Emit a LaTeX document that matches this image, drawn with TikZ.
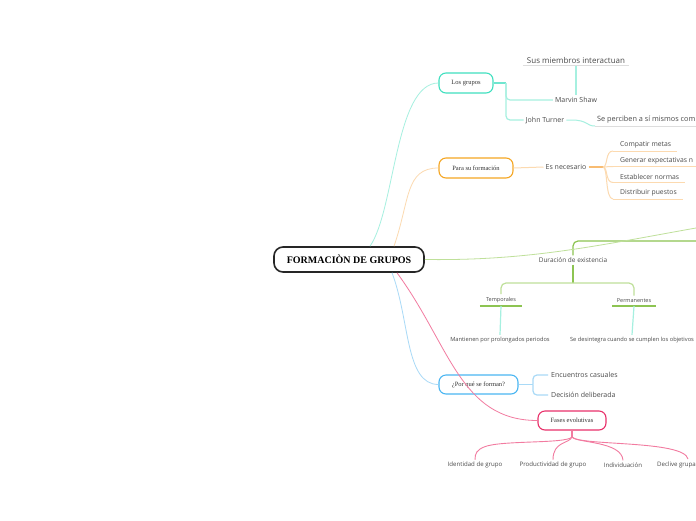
\documentclass[tikz,border=0pt]{standalone}
\usepackage{fontspec}
\setmainfont{Open Sans}
\newfontfamily\serifnode{Liberation Serif}
\definecolor{txt}{HTML}{4A4A4A}
\definecolor{tealB}{HTML}{40E0C0}
\definecolor{tealM}{HTML}{6FE6CF}
\definecolor{tealL}{HTML}{A6F0E0}
\definecolor{orangeB}{HTML}{F5A623}
\definecolor{orangeM}{HTML}{F8BC72}
\definecolor{orangeL}{HTML}{FCDAB0}
\definecolor{greenB}{HTML}{8DC452}
\definecolor{greenL}{HTML}{BFE09A}
\definecolor{blueB}{HTML}{4AB6F2}
\definecolor{blueL}{HTML}{A9DAF7}
\definecolor{pinkB}{HTML}{E8306A}
\definecolor{pinkL}{HTML}{F27BA0}
\definecolor{grayline}{HTML}{DDDDDD}
\begin{document}
\begin{tikzpicture}[x=1pt,y=-1pt,
  mainnode/.style={draw=black!85, line width=1.6pt, rounded corners=9pt, minimum width=150pt, minimum height=25pt, inner sep=0pt, font=\serifnode\bfseries\fontsize{10}{12}\selectfont},
  topic/.style={rounded corners=7pt, line width=1.1pt, minimum height=20pt, inner sep=0pt, text=black!80, font=\serifnode\fontsize{6.5}{7.5}\selectfont},
  lbl/.style={text=txt, inner sep=2pt, font=\fontsize{7}{8}\selectfont},
  itemlbl/.style={lbl, anchor=south west, inner xsep=0pt, inner ysep=2.5pt, font=\fontsize{6.8}{8}\selectfont, execute at begin node=\hspace*{7pt}, execute at end node=\hspace*{6pt}},
  small/.style={lbl, font=\fontsize{6.1}{7}\selectfont},
  conn/.style={line width=0.8pt}
]
\fill[white] (0,0) rectangle (696,520);
\useasboundingbox (0,0) rectangle (696,520);

% main nodes
\node[mainnode] (central) at (349,259.5) {FORMACIÒN DE GRUPOS};
\node[topic, draw=tealB, minimum width=54pt] (grupos) at (466,83) {Los grupos};
\node[topic, draw=orangeB, minimum width=74pt] (formacion) at (476,168) {Para su formación};
\node[topic, draw=blueB, minimum width=79pt, minimum height=19pt] (porque) at (478.5,384.5) {¿Por qué se forman?};
\node[topic, draw=pinkB, minimum width=68pt, minimum height=19pt] (fases) at (572,420.5) {Fases evolutivas};

% Los grupos branch
\node[lbl, font=\fontsize{8}{9}\selectfont, inner xsep=4pt, inner ysep=2.5pt] (sus) at (576,60) {Sus miembros interactuan};
\draw[grayline, line width=0.8pt] (sus.south west) -- (sus.south east);
\node[lbl] (marvin) at (576,100) {Marvin Shaw};
\node[lbl] (john) at (545,120) {John Turner};
\node[lbl, anchor=south west, inner ysep=2.5pt, font=\fontsize{7.3}{8}\selectfont] (seperc) at (595,126) {Se perciben a sí mismos com};
\coordinate (sepEnd) at (696,126);
\draw[grayline, line width=0.8pt] (seperc.south west) -- (sepEnd);
\coordinate (gb) at (506,83);
\draw[tealM, line width=1.6pt] (grupos.east) -- (gb);
\draw[tealL, line width=1.2pt, rounded corners=4pt] (gb) |- (marvin.west);
\draw[tealL, line width=1.2pt, rounded corners=4pt] (gb) |- (john.west);
\draw[tealL, line width=1.2pt] (sus.south) -- (marvin.north);
\draw[tealL, line width=1pt] (john.east) -- ++(5,0) .. controls (588,120) and (586,126) .. (seperc.south west);

% Para su formacion branch
\node[lbl] (nec) at (566,167) {Es necesario};
\node[itemlbl] (c1) at (613,151) {Compatir metas};
\node[itemlbl] (c2) at (613,166.5) {Generar expectativas n};
\node[itemlbl] (c3) at (613,182.5) {Establecer normas};
\node[itemlbl] (c4) at (613,199) {Distribuir puestos};
\foreach \c in {c1,c2,c3,c4}{\draw[orangeL, line width=1pt] (\c.south west) -- (\c.south east);}
\draw[orangeL, line width=1pt] (formacion.east) -- (nec.west);
\coordinate (ob) at (603,167);
\draw[orangeM, line width=1.6pt] (nec.east) -- (ob);
\draw[orangeL, line width=1pt] (ob) .. controls (608,167) and (605,151) .. (c1.south west);
\draw[orangeL, line width=1pt] (ob) .. controls (608,167) and (606,166.5) .. (c2.south west);
\draw[orangeL, line width=1pt] (ob) .. controls (608,167) and (605,182.5) .. (c3.south west);
\draw[orangeL, line width=1pt] (ob) .. controls (608,167) and (605,199) .. (c4.south west);

% Duracion branch
\node[lbl, font=\fontsize{6.5}{8}\selectfont] (dur) at (573,260) {Duración de existencia};
\node[lbl, font=\fontsize{5.5}{6}\selectfont, anchor=south, minimum width=42pt, inner ysep=3pt] (temp) at (501,306) {Temporales};
\node[lbl, font=\fontsize{5.5}{6}\selectfont, anchor=south, minimum width=43pt, inner ysep=3pt] (perm) at (634,306) {Permanentes};
\draw[greenB, line width=1.8pt] (temp.south west) -- (temp.south east);
\draw[greenB, line width=1.8pt] (perm.south west) -- (perm.south east);
\node[lbl, font=\fontsize{5.7}{6.5}\selectfont] (mant) at (500,340) {Mantienen por prolongados periodos};
\node[lbl, font=\fontsize{5.7}{6.5}\selectfont] (sedes) at (632,340) {Se desintegra cuando se cumplen los objetivos};
\coordinate (gtop) at (696,241);
\coordinate (gsplit) at (573,283);
\draw[greenB, line width=1.2pt, rounded corners=5pt] (gtop) -| (dur.north);
\draw[greenB, line width=1.2pt] (dur.south) -- (gsplit);
\draw[greenL, line width=1.2pt, rounded corners=5pt] (gsplit) -| (temp.north);
\draw[greenL, line width=1.2pt, rounded corners=5pt] (gsplit) -| (perm.north);
\draw[tealL, line width=1.2pt] (temp.south) -- (mant.north);
\draw[tealL, line width=1.2pt] (perm.south) -- (sedes.north);

% Por que se forman branch
\node[lbl, anchor=west, inner xsep=3pt] (enc) at (548,375) {Encuentros casuales};
\node[lbl, anchor=west, inner xsep=3pt] (dec) at (548,395) {Decisión deliberada};
\coordinate (bb) at (533,384.5);
\draw[blueL, line width=1.2pt] (porque.east) -- (bb);
\draw[blueL, line width=1.2pt, rounded corners=4pt] (bb) |- (enc.west);
\draw[blueL, line width=1.2pt, rounded corners=4pt] (bb) |- (dec.west);

% Fases evolutivas branch
\node[small] (ident) at (475,465) {Identidad de grupo};
\node[small] (prod) at (553,465) {Productividad de grupo};
\node[small] (indiv) at (623,465) {Individuación};
\node[small, anchor=west] (decl) at (655,465) {Declive grupa};
\coordinate (pb) at (572,437);
\coordinate (declTop) at (688,459);
\draw[pinkL, line width=1.1pt] (fases.south) -- (pb);
\draw[pinkL, line width=0.9pt] (pb) .. controls (566,444) and (500,440) .. (484,447) .. controls (477,450) and (475,453) .. (ident.north);
\draw[pinkL, line width=0.9pt] (pb) .. controls (569,444) and (553,441) .. (prod.north);
\draw[pinkL, line width=0.9pt] (pb) .. controls (576,443) and (622,441) .. (indiv.north);
\draw[pinkL, line width=0.9pt] (pb) .. controls (580,446) and (684,440) .. (declTop);

% connectors from the central node
\draw[tealL, conn] ([xshift=21pt]central.north) .. controls (395,210) and (395,83) .. (grupos.west);
\draw[orangeL, conn] ([xshift=45pt]central.north) .. controls (410,200) and (405,168) .. (formacion.west);
\coordinate (gEnd) at (696,228);
\draw[greenL, conn] (central.east) .. controls (530,261) and (600,245) .. (gEnd);
\draw[blueL, conn] ([xshift=43pt]central.south) .. controls (410,320) and (405,384.5) .. (porque.west);
\draw[pinkL, conn] ([xshift=48pt]central.south) .. controls (450,345) and (460,420.5) .. (fases.west);
\end{tikzpicture}
\end{document}
